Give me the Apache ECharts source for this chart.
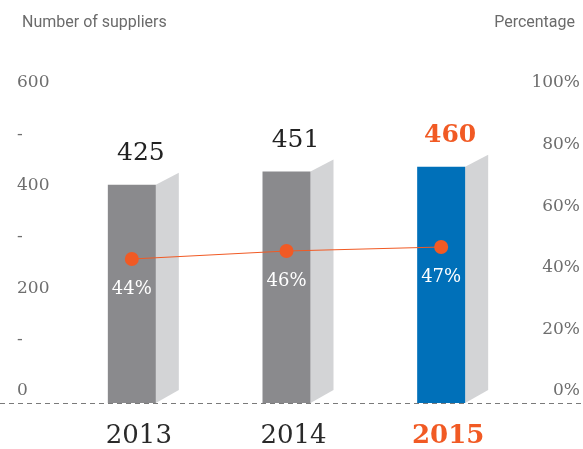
<!DOCTYPE html>
<html>
<head>
<meta charset="utf-8">
<script src="https://cdn.jsdelivr.net/npm/echarts@6/dist/echarts.min.js"></script>
<style>html,body{margin:0;padding:0;background:#fff;}#c{width:583px;height:449px;}</style>
</head>
<body>
<div id="c"></div>
<script>
var years = ['2013', '2014', '2015'];
var suppliers = [425, 451, 460];
var percentages = [44, 46, 47];
var highlightIndex = 2;
var leftTickValues = [0, 100, 200, 300, 400, 500, 600];
var rightTickValues = [0, 20, 40, 60, 80, 100];

var ORANGE = '#f15a24';
var SERIF = '"DejaVu Serif", serif';
var SANS = 'Roboto, "Noto Sans", sans-serif';

var chart = echarts.init(document.getElementById('c'), null, {renderer: 'canvas'});

var barData = suppliers.map(function (v, i) { return [i, v]; });

var option = {
  animation: false,
  backgroundColor: '#fff',
  title: [
    {text: 'Number of suppliers', left: 17, top: 10, textStyle: {fontFamily: SANS, fontSize: 16, fontWeight: 'normal', color: '#6b6b6b'}},
    {text: 'Percentage', right: 3, top: 10, textStyle: {fontFamily: SANS, fontSize: 16, fontWeight: 'normal', color: '#6b6b6b'}}
  ],
  grid: {left: 54.5, right: 63.5, top: 95, bottom: 46},
  xAxis: {
    type: 'category',
    data: years,
    boundaryGap: true,
    axisLine: {show: false},
    axisTick: {show: false},
    splitLine: {show: false},
    axisLabel: {
      interval: 0,
      hideOverlap: false,
      margin: 20,
      padding: [0, 0, 0, 14],
      fontFamily: SERIF,
      fontSize: 26,
      color: '#2a2a2a',
      formatter: function (v, i) { return i === highlightIndex ? '{h|' + v + '}' : v; },
      rich: {h: {fontFamily: SERIF, fontSize: 26, fontWeight: 'bold', color: ORANGE}}
    }
  },
  yAxis: [
    {
      type: 'value', min: 0, max: 600, interval: 100, position: 'left',
      axisLine: {show: false}, axisTick: {show: false}, splitLine: {show: false},
      axisLabel: {
        align: 'left', margin: 37.5, verticalAlign: 'bottom', lineHeight: 24,
        fontFamily: SERIF, fontSize: 17, color: '#6e6e6e',
        formatter: function (v) { return (v % 200 === 0) ? String(v) : '-'; }
      }
    },
    {
      type: 'value', min: 0, max: 100, interval: 20, position: 'right',
      axisLine: {show: false}, axisTick: {show: false}, splitLine: {show: false},
      axisLabel: {
        align: 'right', margin: 61.5, verticalAlign: 'bottom', lineHeight: 24,
        fontFamily: SERIF, fontSize: 17, color: '#6e6e6e',
        formatter: '{value}%'
      }
    },
    {
      type: 'value', min: 8, max: 85, show: false
    }
  ],
  graphic: [
    {type: 'line', z: 100, shape: {x1: 0, y1: 403.5, x2: 583, y2: 403.5},
     style: {stroke: '#7a7a7a', lineWidth: 1, lineDash: [5, 4]}}
  ],
  series: [
    {
      type: 'custom',
      yAxisIndex: 0,
      z: 2,
      data: barData,
      renderItem: function (params, api) {
        var idx = api.value(0), v = api.value(1);
        var top = api.coord([idx, v]);
        var base = api.coord([idx, 0]);
        var w = 48, sd = 23, sl = 12;
        var x0 = top[0] - w / 2;
        var hi = idx === highlightIndex;
        return {
          type: 'group',
          children: [
            {type: 'polygon', shape: {points: [[x0 + w, top[1]], [x0 + w + sd, top[1] - sl], [x0 + w + sd, base[1] - 13], [x0 + w, base[1]]]},
             style: {fill: '#d3d4d6'}},
            {type: 'rect', shape: {x: x0, y: top[1], width: w, height: base[1] - top[1]},
             style: {fill: hi ? '#0070b9' : '#8a8a8d'}},
            {type: 'text', style: {text: String(v), x: top[0] + 9, y: top[1] - 31, align: 'center', verticalAlign: 'middle',
              font: (hi ? 'bold ' : '') + '25px ' + SERIF, fill: hi ? ORANGE : '#222'}}
          ]
        };
      }
    },
    {
      type: 'line',
      yAxisIndex: 2,
      z: 5,
      data: percentages,
      symbol: 'circle',
      symbolSize: 14,
      itemStyle: {color: ORANGE},
      lineStyle: {color: ORANGE, width: 1},
      label: {
        show: true, position: 'bottom', distance: 14,
        fontFamily: SERIF, fontSize: 18, color: '#fff',
        formatter: '{c}%'
      }
    }
  ]
};
chart.setOption(option);
</script>
</body>
</html>
